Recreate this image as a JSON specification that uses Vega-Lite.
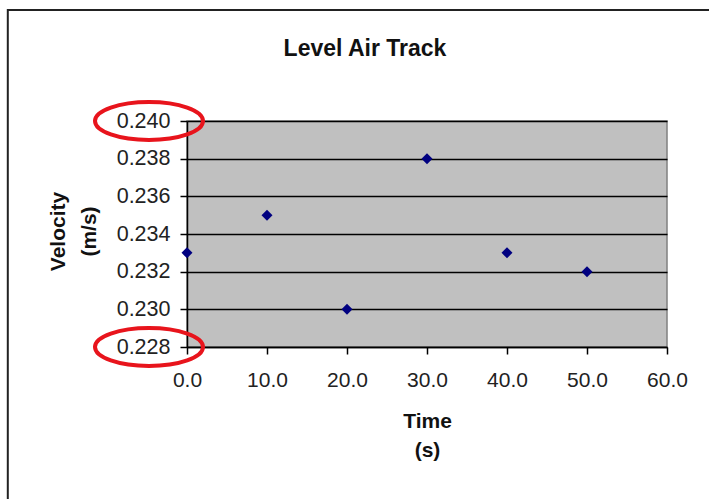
{
  "$schema": "https://vega.github.io/schema/vega-lite/v6.json",
  "width": 480,
  "height": 226,
  "autosize": {"type": "none"},
  "padding": {"left": 187, "top": 121, "right": 42, "bottom": 152},
  "background": "white",
  "config": {
    "view": {"stroke": "#808080", "strokeWidth": 1.5, "fill": "#c0c0c0"},
    "font": "Liberation Sans",
    "axisX": {
      "grid": false,
      "labelOverlap": false,
      "labelFlush": false,
      "domainColor": "#000000",
      "domainWidth": 1.5,
      "tickColor": "#000000",
      "tickSize": 7,
      "tickWidth": 1.5,
      "labelFontSize": 21,
      "labelColor": "#222222",
      "labelPadding": 15,
      "labelFont": "Liberation Sans",
      "titleFont": "Liberation Sans",
      "titleFontSize": 21,
      "titleFontWeight": "bold",
      "titleColor": "#111111",
      "titleLineHeight": 29,
      "titleBaseline": "middle",
      "titleAnchor": "middle",
      "titleX": 240,
      "titleY": 74
    },
    "axisY": {
      "grid": true,
      "labelOverlap": false,
      "labelFlush": false,
      "gridColor": "#000000",
      "gridWidth": 1.5,
      "gridOpacity": 1,
      "domainColor": "#000000",
      "domainWidth": 1.5,
      "tickColor": "#000000",
      "tickSize": 7,
      "tickWidth": 1.5,
      "labelFontSize": 21.5,
      "labelColor": "#222222",
      "labelPadding": 10,
      "labelFont": "Liberation Sans",
      "titleFont": "Liberation Sans",
      "titleFontSize": 21,
      "titleFontWeight": "bold",
      "titleColor": "#111111",
      "titleLineHeight": 31,
      "titleBaseline": "middle",
      "titleAngle": -90,
      "titleX": -129,
      "titleY": 110
    }
  },
  "title": {
    "text": "Level Air Track",
    "font": "Liberation Sans",
    "fontSize": 23,
    "fontWeight": "bold",
    "color": "#111111",
    "anchor": "middle",
    "frame": "group",
    "dx": -62,
    "baseline": "alphabetic",
    "offset": -70
  },
  "datasets": {
    "points": [
      {"time": 0, "velocity": 0.233},
      {"time": 10, "velocity": 0.235},
      {"time": 20, "velocity": 0.230},
      {"time": 30, "velocity": 0.238},
      {"time": 40, "velocity": 0.233},
      {"time": 50, "velocity": 0.232}
    ],
    "circled": [
      {"velocity": 0.240},
      {"velocity": 0.228}
    ],
    "frame": [
      {"name": "chart area"}
    ]
  },
  "layer": [
    {
      "data": {"name": "frame"},
      "mark": {"type": "rect", "fillOpacity": 0, "fill": "white", "stroke": "#222222", "strokeWidth": 2, "clip": false},
      "encoding": {
        "x": {"datum": -22.4, "type": "quantitative", "scale": {"domain": [0, 60], "nice": false, "zero": false},
          "axis": {"values": [0, 10, 20, 30, 40, 50, 60], "format": ".1f", "title": ["Time", "(s)"]}},
        "x2": {"datum": 150},
        "y": {"datum": 0.2459, "type": "quantitative", "scale": {"domain": [0.228, 0.240], "nice": false, "zero": false},
          "axis": {"values": [0.228, 0.230, 0.232, 0.234, 0.236, 0.238, 0.240], "format": ".3f", "title": ["Velocity", "(m/s)"]}},
        "y2": {"datum": 0.1}
      }
    },
    {
      "data": {"name": "points"},
      "mark": {"type": "point", "shape": "diamond", "filled": true, "color": "#000080", "size": 120, "opacity": 1},
      "encoding": {
        "x": {
          "field": "time",
          "type": "quantitative",
          "scale": {"domain": [0, 60], "nice": false, "zero": false},
          "axis": {"values": [0, 10, 20, 30, 40, 50, 60], "format": ".1f", "title": ["Time", "(s)"]}
        },
        "y": {
          "field": "velocity",
          "type": "quantitative",
          "scale": {"domain": [0.228, 0.240], "nice": false, "zero": false},
          "axis": {"values": [0.228, 0.230, 0.232, 0.234, 0.236, 0.238, 0.240], "format": ".3f", "title": ["Velocity", "(m/s)"]}
        }
      }
    },
    {
      "data": {"name": "circled"},
      "mark": {
        "type": "point",
        "shape": "M -1 0 A 1 0.352 0 1 1 1 0 A 1 0.352 0 1 1 -1 0 Z",
        "filled": false,
        "stroke": "#e8141c",
        "strokeWidth": 4,
        "size": 11664,
        "opacity": 1,
        "clip": false
      },
      "encoding": {
        "x": {"datum": -4.75, "type": "quantitative",
          "axis": {"values": [0, 10, 20, 30, 40, 50, 60], "format": ".1f", "title": ["Time", "(s)"]}},
        "y": {"field": "velocity", "type": "quantitative",
          "axis": {"values": [0.228, 0.230, 0.232, 0.234, 0.236, 0.238, 0.240], "format": ".3f", "title": ["Velocity", "(m/s)"]}}
      }
    }
  ]
}
